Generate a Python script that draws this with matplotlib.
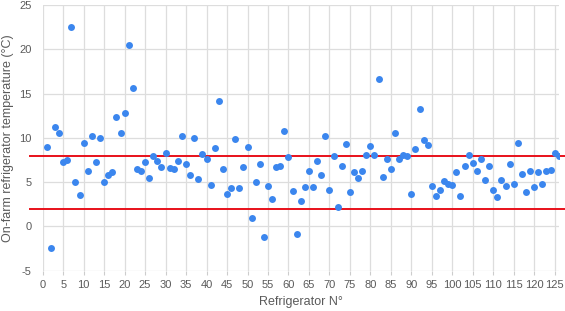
import numpy as np
import matplotlib
matplotlib.use('Agg')
import matplotlib.pyplot as plt

# Refrigerator numbers and on-farm temperatures
fridge_no = np.arange(1, 127)
temps = [
    9.0, -2.4, 11.2, 10.5, 7.3, 7.5, 22.5, 5.0, 3.5, 9.4,
    6.2, 10.2, 7.3, 10.0, 5.0, 5.8, 6.1, 12.4, 10.5, 12.8,
    20.5, 15.6, 6.5, 6.2, 7.3, 5.5, 7.9, 7.4, 6.7, 8.3,
    6.6, 6.5, 7.4, 10.2, 7.0, 5.8, 10.0, 5.3, 8.2, 7.6,
    4.7, 8.8, 14.2, 6.5, 3.7, 4.3, 9.9, 4.3, 6.7, 9.0,
    1.0, 5.0, 7.0, -1.2, 4.6, 3.1, 6.7, 6.8, 10.8, 7.8,
    4.0, -0.9, 2.9, 4.4, 6.2, 4.4, 7.4, 5.8, 10.2, 4.1,
    7.9, 2.2, 6.8, 9.3, 3.9, 6.1, 5.5, 6.2, 8.1, 9.1,
    8.1, 16.6, 5.6, 7.6, 6.5, 10.6, 7.6, 8.1, 7.9, 3.7,
    8.7, 13.2, 9.8, 9.2, 4.6, 3.4, 4.1, 5.1, 4.8, 4.7,
    6.1, 3.4, 6.8, 8.1, 7.2, 6.2, 7.6, 5.2, 6.8, 4.1,
    3.3, 5.2, 4.6, 7.1, 4.8, 9.4, 5.9, 3.9, 6.3, 4.4,
    6.1, 4.8, 6.3, 6.4, 8.3, 7.9,
]
limits = [2, 8]  # recommended range, °C

plt.rcParams['font.family'] = ['Liberation Sans', 'DejaVu Sans']
plt.rcParams['axes.unicode_minus'] = False
text_col = '#5a5a5a'

fig = plt.figure(figsize=(5.65, 3.11), dpi=100)
ax = fig.add_axes([0.0756, 0.1296, 0.9134, 0.8544])

ax.scatter(fridge_no, temps, s=25, color='#3b86ee', zorder=3, linewidths=0)
for lim in limits:
    # red limit lines run a little past the plot on both sides
    ax.axhline(lim, xmin=-0.025, xmax=1.012, color='#e8101a', lw=1.4,
               zorder=2, clip_on=False)

ax.set_xlim(0, 126)
ax.set_ylim(-5, 25)
ax.set_xticks(np.arange(0, 126, 5))
ax.set_yticks(np.arange(-5, 26, 5))
ax.grid(True, color='#dddddd', lw=0.9, zorder=0)
ax.set_axisbelow(True)
for s in ax.spines.values():
    s.set_visible(False)
ax.tick_params(axis='x', length=3, color='#cccccc', labelsize=8, labelcolor=text_col, pad=4)
ax.tick_params(axis='y', length=0, labelsize=8, labelcolor=text_col, pad=8)

ax.set_xlabel('Refrigerator N°', fontsize=9, color=text_col, labelpad=4)
ax.set_ylabel('On-farm refrigerator temperature (°C)', fontsize=9, color=text_col, labelpad=4)

fig.savefig('out.png', dpi=100)
